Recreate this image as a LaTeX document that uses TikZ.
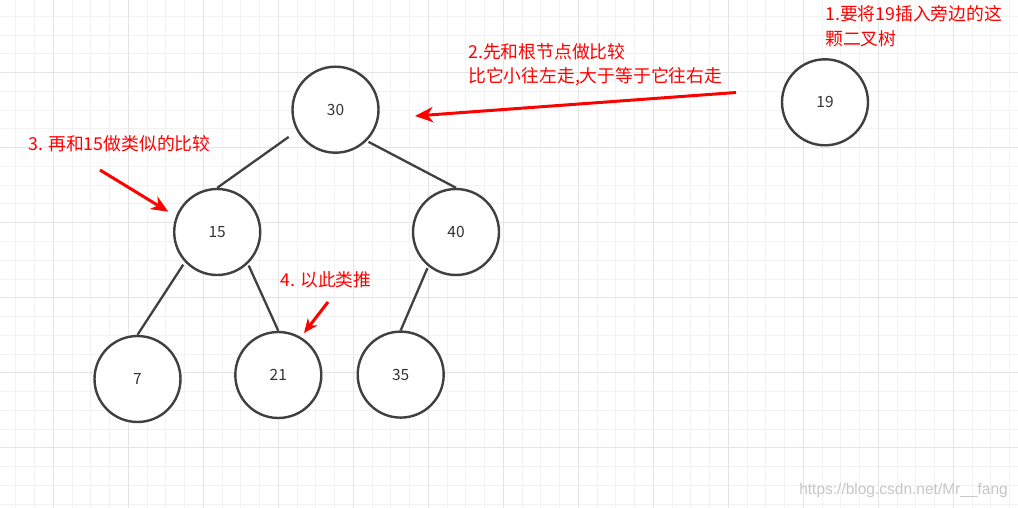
\documentclass[tikz,border=0pt]{standalone}
\usepackage{fontspec}
\setmainfont{Noto Sans CJK SC}
\newfontfamily\markfont{Liberation Sans}
\usepackage{tikz}
\usetikzlibrary{%
	arrows.meta,%
	calc
}
\definecolor{minorgrid}{RGB}{242,242,242}
\definecolor{majorgrid}{RGB}{228,228,228}
\definecolor{ringgray}{RGB}{64,64,64}
\definecolor{numgray}{RGB}{51,51,51}

\begin{document}
\begin{tikzpicture}[x=1pt,y=-1pt,
		treenode/.style={circle, draw=ringgray, line width=2.4pt, fill=white,
			minimum size=86pt, inner sep=0pt, text=numgray, font=\fontsize{15.5}{18}\selectfont},
		treeedge/.style={draw=ringgray, line width=2.3pt},
		note/.style={anchor=base west, inner sep=0pt, text=red, font=\fontsize{17.8}{24}\selectfont},
		hint/.style={draw=red, line width=3pt, -{Stealth[length=#1, width=0.85*#1, inset=0.3*#1]}}
	]
		\useasboundingbox (0,0) rectangle (1018,508);
		\fill[white] (0,0) rectangle (1018,508);
		
		% grid
		\foreach \i in {0,...,53}
			\draw[minorgrid, line width=1pt] ({15.8+18.75*\i},0) -- ({15.8+18.75*\i},508);
		\foreach \i in {0,...,26}
			\draw[minorgrid, line width=1pt] (0,{16.5+18.75*\i}) -- (1018,{16.5+18.75*\i});
		\foreach \i in {0,...,12}
			\draw[majorgrid, line width=1pt] ({53.3+75*\i},0) -- ({53.3+75*\i},508);
		\foreach \i in {0,...,5}
			\draw[majorgrid, line width=1pt] (0,{72.7+75*\i}) -- (1018,{72.7+75*\i});
		
		\node[treenode] (n30) at (335.5,109.7) {30};
		\node[treenode] (n19) at (825,102.3) {19};
		\node[treenode] (n15) at (217.2,232) {15};
		\node[treenode] (n40) at (456,232) {40};
		\node[treenode] (n7) at (137.5,379) {7};
		\node[treenode] (n21) at (278.3,375) {21};
		\node[treenode] (n35) at (400.7,374.6) {35};
		
		\draw[treeedge, shorten <=10pt] (n30.209) -- (n15.north);
		\draw[treeedge, shorten <=2pt] (n30.315) -- (n40.north);
		\draw[treeedge, shorten <=3pt] (n15.223) -- (n7.north);
		\draw[treeedge, shorten <=2pt] (n15.314) -- (n21.north);
		\draw[treeedge, shorten <=2pt] (n40.231) -- (n35.north);
		
		\node[note] (t1a) at (825,20.8) {1.要将19插入旁边的这};
		\node[note] (t1b) at (825,45.1) {颗二叉树};
		\node[note] (t2a) at (468,58.5) {2.先和根节点做比较};
		\node[note] (t2b) at (468,82.5) {比它小往左走,大于等于它往右走};
		\node[note] (t3) at (28,150.8) {3. 再和15做类似的比较};
		\node[note] (t4) at (280,286.8) {4. 以此类推};
		
		\coordinate (h2s) at (736,92.5);
		\coordinate (h2e) at (415,116);
		\coordinate (h3s) at (100,170);
		\coordinate (h3e) at (168.3,211.7);
		\coordinate (h4s) at (328,302);
		\coordinate (h4e) at (304,333);
		\draw[hint=18pt] (h2s) -- (h2e);
		\draw[hint=17pt] (h3s) -- (h3e);
		\draw[hint=14pt] (h4s) -- (h4e);
		
		\node[anchor=base east, inner sep=0pt, text=black!22, font=\markfont\fontsize{15.5}{18}\selectfont] (mark) at (1008,494) {https://blog.csdn.net/Mr\_\_fang};

	\end{tikzpicture}
\end{document}
